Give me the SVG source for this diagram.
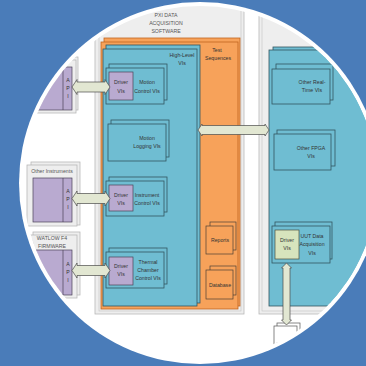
<svg xmlns="http://www.w3.org/2000/svg" width="366" height="366" viewBox="0 0 366 366">
<defs>
<clipPath id="circ"><circle cx="200" cy="183" r="177"/></clipPath>
<style>
.panel{fill:#eeeeee;stroke:#b8b8b8;stroke-width:0.8}
.pline{fill:none;stroke:#c8c8c8;stroke-width:0.7}
.teal{fill:#6fbdd2;stroke:#33565f;stroke-width:0.8}
.orange{fill:#f7a25a;stroke:#c0651e;stroke-width:0.8}
.obox{fill:#f7a25a;stroke:#4a4036;stroke-width:0.7}
.purple{fill:#b9aad0;stroke:#4a4258;stroke-width:0.7}
.green{fill:#d7e4bd;stroke:#4a5040;stroke-width:0.7}
.white{fill:#ffffff;stroke:#555;stroke-width:0.7}
.arrow{fill:#e2e7d2;stroke:#4a4a4a;stroke-width:0.7}
text{font-family:"Liberation Sans",Arial,sans-serif;font-size:5.2px;fill:#333;text-anchor:middle}
.lbl{fill:#555}
</style>
</defs>
<rect width="366" height="366" fill="#4a7cb9"/>
<circle cx="200" cy="183" r="181" fill="#ffffff"/>
<g clip-path="url(#circ)">
<g id="pxi-panel">
<rect class="panel" x="95" y="2" width="149" height="312"/>
<rect class="pline" x="99" y="5" width="142" height="306"/>
<text class="lbl" x="166" y="17">PXI DATA</text>
<text class="lbl" x="166" y="25">ACQUISITION</text>
<text class="lbl" x="166" y="33">SOFTWARE</text>
</g>
<g id="right-panel">
<rect class="panel" x="259" y="2" width="140" height="312"/>
<rect class="pline" x="262" y="5" width="134" height="306"/>
</g>
<g id="test-sequences">
<rect class="orange" x="104" y="38" width="136" height="268"/>
<rect class="orange" x="101" y="42" width="137" height="267"/>
<text x="217" y="52">Test</text>
<text x="218" y="60">Sequences</text>
</g>
<g id="high-level">
<rect class="teal" x="106" y="45" width="94" height="258"/>
<rect class="teal" x="103" y="49" width="94" height="257"/>
<text x="182" y="57">High-Level</text>
<text x="182" y="65">VIs</text>
</g>
<g id="motion-control">
<rect class="teal" x="109" y="64" width="58" height="36"/>
<rect class="teal" x="106" y="68" width="58" height="36"/>
<rect class="purple" x="109" y="72" width="24" height="28"/>
<text x="121" y="84">Driver</text>
<text x="121" y="93">VIs</text>
<text x="147" y="84">Motion</text>
<text x="147" y="93">Control VIs</text>
</g>
<g id="motion-logging">
<rect class="teal" x="111" y="120" width="58" height="37"/>
<rect class="teal" x="108" y="124" width="58" height="37"/>
<text x="147" y="140">Motion</text>
<text x="147" y="148">Logging VIs</text>
</g>
<g id="instrument-control">
<rect class="teal" x="109" y="177" width="58" height="35"/>
<rect class="teal" x="106" y="181" width="58" height="35"/>
<rect class="purple" x="109" y="185" width="24" height="26"/>
<text x="121" y="197">Driver</text>
<text x="121" y="205">VIs</text>
<text x="147" y="197">Instrument</text>
<text x="147" y="205">Control VIs</text>
</g>
<g id="thermal-control">
<rect class="teal" x="109" y="248" width="58" height="36"/>
<rect class="teal" x="106" y="252" width="58" height="36"/>
<rect class="purple" x="109" y="257" width="24" height="28"/>
<text x="121" y="268">Driver</text>
<text x="121" y="276">VIs</text>
<text x="148" y="264">Thermal</text>
<text x="148" y="272">Chamber</text>
<text x="148" y="280">Control VIs</text>
</g>
<g id="reports">
<rect class="obox" x="210" y="222" width="26" height="28"/>
<rect class="obox" x="206" y="226" width="27" height="28"/>
<text x="220" y="242">Reports</text>
</g>
<g id="database">
<rect class="obox" x="210" y="266" width="26" height="29"/>
<rect class="obox" x="206" y="270" width="27" height="29"/>
<text x="220" y="287">Database</text>
</g>
<g id="motion-api">
<rect class="panel" x="33" y="57" width="45" height="53"/>
<rect class="panel" x="30" y="60" width="46" height="53"/>
<rect class="purple" x="33" y="67" width="39" height="43"/>
<line x1="63" y1="67" x2="63" y2="110" stroke="#4a4258" stroke-width="0.7"/>
<text x="68" y="82">A</text>
<text x="68" y="90">P</text>
<text x="68" y="98">I</text>
</g>
<g id="other-instruments">
<rect class="panel" x="31" y="162" width="49" height="63"/>
<rect class="panel" x="27" y="165" width="50" height="61"/>
<text class="lbl" x="52" y="173">Other Instruments</text>
<rect class="purple" x="33" y="178" width="39" height="44"/>
<line x1="63" y1="178" x2="63" y2="222" stroke="#4a4258" stroke-width="0.7"/>
<text x="68" y="193">A</text>
<text x="68" y="201">P</text>
<text x="68" y="209">I</text>
</g>
<g id="watlow">
<rect class="panel" x="33" y="232" width="47" height="63"/>
<rect class="panel" x="30" y="235" width="47" height="63"/>
<text class="lbl" x="52" y="240">WATLOW F4</text>
<text class="lbl" x="52" y="248">FIRMWARE</text>
<rect class="purple" x="33" y="250" width="39" height="45"/>
<line x1="63" y1="250" x2="63" y2="295" stroke="#4a4258" stroke-width="0.7"/>
<text x="68" y="266">A</text>
<text x="68" y="274">P</text>
<text x="68" y="282">I</text>
</g>
<g id="rt-fpga">
<rect class="teal" x="273" y="47" width="130" height="256"/>
<rect class="teal" x="269" y="50" width="130" height="256"/>
</g>
<g id="other-rt">
<rect class="teal" x="276" y="64" width="57" height="36"/>
<rect class="teal" x="272" y="69" width="58" height="35"/>
<text x="312" y="84">Other Real-</text>
<text x="312" y="92">Time VIs</text>
</g>
<g id="other-fpga">
<rect class="teal" x="277" y="130" width="58" height="36"/>
<rect class="teal" x="274" y="134" width="57" height="36"/>
<text x="311" y="150">Other FPGA</text>
<text x="311" y="158">VIs</text>
</g>
<g id="uut-daq">
<rect class="teal" x="275" y="222" width="57" height="37"/>
<rect class="teal" x="272" y="226" width="58" height="37"/>
<rect class="green" x="275" y="230" width="24" height="29"/>
<text x="287" y="242">Driver</text>
<text x="287" y="250">VIs</text>
<text x="312" y="238">UUT Data</text>
<text x="312" y="246">Acquisition</text>
<text x="312" y="255">VIs</text>
</g>
<g id="uut">
<rect class="white" x="277" y="323" width="23" height="30"/>
<rect class="white" x="274" y="326" width="23" height="30"/>
</g>
<g id="connectors">
<path class="arrow" d="M72,87 L77,79.5 L77,82 L105,82 L105,79.5 L110,87 L105,94.5 L105,92 L77,92 L77,94.5 Z"/>
<path class="arrow" d="M72,198.5 L77,191 L77,193.5 L105,193.5 L105,191 L110,198.5 L105,206 L105,203.5 L77,203.5 L77,206 Z"/>
<path class="arrow" d="M72,270.5 L77,263 L77,265.5 L105,265.5 L105,263 L110,270.5 L105,278 L105,275.5 L77,275.5 L77,278 Z"/>
<path class="arrow" d="M198,130 L202,124 L202,125.5 L265,125.5 L265,124 L269,130 L265,136 L265,134.5 L202,134.5 L202,136 Z"/>
<path class="arrow" d="M286.5,263 L291.5,268 L290,268 L290,320 L291.5,320 L286.5,325 L281.5,320 L283,320 L283,268 L281.5,268 Z"/>
</g>
</g>
</svg>
